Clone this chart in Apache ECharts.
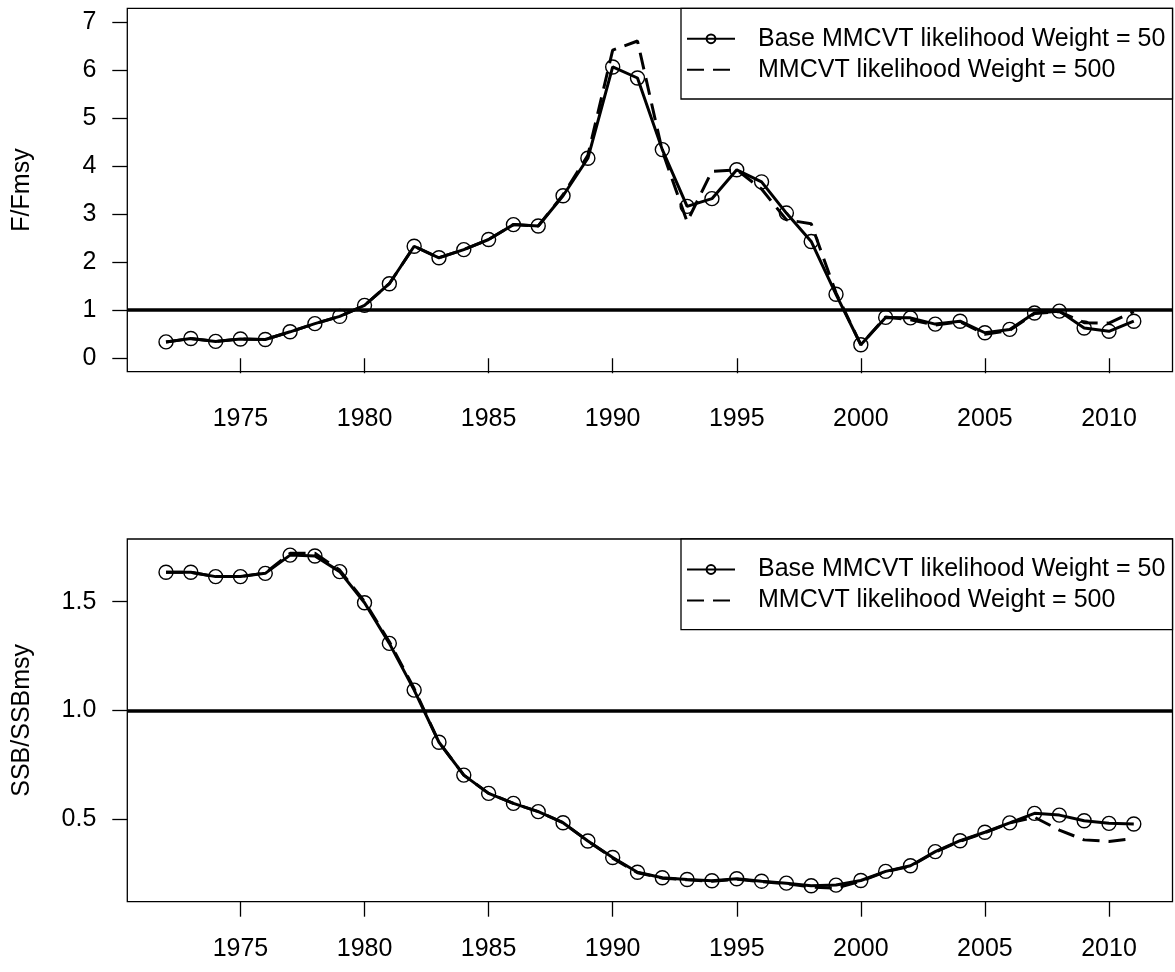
<!DOCTYPE html>
<html>
<head>
<meta charset="utf-8">
<script src="https://cdn.jsdelivr.net/npm/echarts@6/dist/echarts.min.js"></script>
<style>
html,body{margin:0;padding:0;background:#fff;}
#chart{width:1175px;height:972px;}
</style>
</head>
<body>
<div id="chart"></div>
<script>
// ---- data ----
const years = [1972,1973,1974,1975,1976,1977,1978,1979,1980,1981,1982,1983,1984,1985,1986,1987,1988,1989,1990,1991,1992,1993,1994,1995,1996,1997,1998,1999,2000,2001,2002,2003,2004,2005,2006,2007,2008,2009,2010,2011];
const seriesNames = ['Base MMCVT likelihood Weight = 50', 'MMCVT likelihood Weight = 500'];
const fBase = [0.34,0.41,0.35,0.40,0.39,0.55,0.72,0.87,1.10,1.55,2.33,2.09,2.26,2.47,2.78,2.75,3.38,4.16,6.06,5.83,4.34,3.16,3.32,3.92,3.67,3.02,2.43,1.33,0.28,0.85,0.84,0.71,0.77,0.53,0.60,0.94,0.98,0.63,0.56,0.77];
const fAlt  = [0.34,0.41,0.35,0.40,0.39,0.55,0.72,0.87,1.10,1.55,2.33,2.09,2.26,2.47,2.78,2.75,3.40,4.22,6.41,6.60,4.31,2.84,3.89,3.92,3.52,2.88,2.80,1.36,0.28,0.86,0.80,0.69,0.76,0.50,0.58,0.93,0.97,0.74,0.73,0.97];
const sBase = [1.635,1.635,1.615,1.615,1.630,1.714,1.710,1.638,1.495,1.308,1.093,0.853,0.702,0.618,0.572,0.534,0.483,0.399,0.323,0.255,0.230,0.222,0.216,0.225,0.214,0.205,0.193,0.196,0.217,0.259,0.285,0.350,0.400,0.439,0.482,0.526,0.518,0.492,0.480,0.477];
const sAlt  = [1.635,1.635,1.615,1.615,1.632,1.722,1.722,1.645,1.500,1.315,1.100,0.853,0.702,0.618,0.572,0.534,0.483,0.399,0.320,0.253,0.228,0.220,0.214,0.223,0.212,0.202,0.187,0.182,0.214,0.257,0.283,0.348,0.398,0.437,0.482,0.508,0.449,0.404,0.397,0.410];
const xTicks = [1975,1980,1985,1990,1995,2000,2005,2010];
const fTicks = [0,1,2,3,4,5,6,7];
const sTicks = [0.5,1.0,1.5];
const yTitles = ['F/Fmsy','SSB/SSBmsy'];
const refLevel = 1;

// ---- chart ----
const FONT = '"Liberation Sans", Arial, Helvetica, sans-serif';
const FS = 25;
const grids = [
  {left:127.3, right:2.5, top:8.3, height:363.4},
  {left:127.3, right:2.5, top:539, height:362.7}
];
const yRanges = [[-0.28, 7.28],[0.1196, 1.788]];
const yTickSets = [fTicks, sTicks];
const yFormat = [v => String(v), v => v.toFixed(1)];
const dataSets = [[fBase, fAlt],[sBase, sAlt]];

const option = {
  animation: false,
  textStyle: {fontFamily: FONT},
  grid: grids.map(g => Object.assign({show:true, borderColor:'#000', borderWidth:1.3, backgroundColor:'transparent'}, g)),
  xAxis: grids.map((g,i) => ({
    type:'value', gridIndex:i, min:1970.44, max:2012.56,
    axisLine:{show:false}, splitLine:{show:false},
    axisTick:{show:true, inside:false, length:15, customValues:xTicks, lineStyle:{color:'#000', width:1.3}},
    axisLabel:{show:true, customValues:xTicks, margin:35, fontSize:FS, color:'#000', fontFamily:FONT, formatter: v => String(v)}
  })),
  yAxis: grids.map((g,i) => ({
    type:'value', gridIndex:i, min:yRanges[i][0], max:yRanges[i][1],
    axisLine:{show:false}, splitLine:{show:false},
    axisTick:{show:true, inside:false, length:15, customValues:yTickSets[i], lineStyle:{color:'#000', width:1.3}},
    axisLabel:{show:true, customValues:yTickSets[i], margin:31, fontSize:FS, color:'#000', fontFamily:FONT, formatter: yFormat[i]},
    name: yTitles[i], nameLocation:'middle', nameRotate:90, nameGap:93,
    nameTextStyle:{fontSize:FS, color:'#000', fontFamily:FONT}
  })),
  legend: grids.map((g,i) => ({
    orient:'vertical', left:686, top: g.top + 18, padding:0,
    itemWidth:48, itemHeight:11, itemGap:6, selectedMode:false, z:4,
    textStyle:{fontSize:FS, color:'#000', fontFamily:FONT, lineHeight:25, padding:[0,0,0,18]},
    data: [
      {name: seriesNames[0]},
      {name: seriesNames[1], itemStyle:{color:'rgba(0,0,0,0)', borderColor:'rgba(0,0,0,0)', borderWidth:0, opacity:0}}
    ]
  })),
  graphic: grids.map(g => ({
    type:'rect', z:3,
    shape:{x:681, y:g.top, width:491.5, height:90.7},
    style:{fill:'#fff', stroke:'#000', lineWidth:1.3}
  })),
  series: []
};

dataSets.forEach((pair, i) => {
  option.series.push({
    type:'line', name:seriesNames[0], xAxisIndex:i, yAxisIndex:i,
    data: years.map((y,k) => [y, pair[0][k]]),
    symbol:'circle', symbolSize:14, showSymbol:true,
    itemStyle:{color:'rgba(255,255,255,0)', borderColor:'#000', borderWidth:1.4},
    lineStyle:{color:'#000', width:3},
    emphasis:{disabled:true}, z:2,
    markLine:{silent:true, symbol:'none', animation:false, label:{show:false},
      lineStyle:{color:'#000', width:3.5, type:'solid'},
      data:[{yAxis:refLevel}]}
  });
  option.series.push({
    type:'line', name:seriesNames[1], xAxisIndex:i, yAxisIndex:i,
    data: years.map((y,k) => [y, pair[1][k]]),
    symbol:'none', showSymbol:false,
    itemStyle:{color:'#000'},
    lineStyle:{color:'#000', width:3, type:[17,9]},
    emphasis:{disabled:true}, z:2
  });
});

const chart = echarts.init(document.getElementById('chart'), null, {renderer:'canvas'});
chart.setOption(option);
</script>
</body>
</html>
